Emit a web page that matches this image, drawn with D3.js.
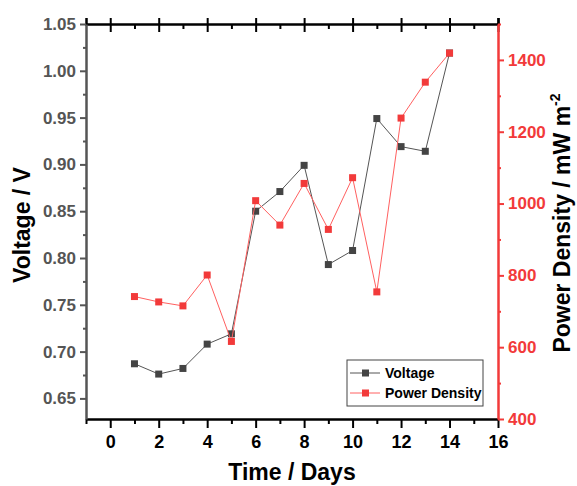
<!DOCTYPE html>
<html>
<head>
	<title></title>
	<style>
		body { margin: 0; background: #fff; }
		text { font-family: "Liberation Sans", Arial, sans-serif; font-weight: bold; }
	</style>
</head>
<body>
	<svg id="container" height="486" width="577"></svg>
</body>
<script src="https://d3js.org/d3.v7.min.js"></script>
<script>
	// data
	let days = [1, 2, 3, 4, 5, 6, 7, 8, 9, 10, 11, 12, 13, 14]
	let voltage = [0.687, 0.676, 0.682, 0.708, 0.719, 0.850, 0.871, 0.899, 0.793, 0.808, 0.949, 0.919, 0.914, 1.019]
	let power = [741, 726, 715, 801, 616, 1008, 940, 1056, 928, 1072, 754, 1238, 1338, 1419]

	let xTicks = [0, 2, 4, 6, 8, 10, 12, 14, 16]
	let xMinor = [-1, 1, 3, 5, 7, 9, 11, 13, 15]
	let vTicks = [0.65, 0.70, 0.75, 0.80, 0.85, 0.90, 0.95, 1.00, 1.05]
	let vMinor = [0.675, 0.725, 0.775, 0.825, 0.875, 0.925, 0.975, 1.025]
	let pTicks = [400, 600, 800, 1000, 1200, 1400]
	let pMinor = [500, 700, 900, 1100, 1300, 1500]

	let red = "#f23a3a"
	let gray = "#555"

	let svg = d3.select("#container")

	let x = d3.scaleLinear().domain([-1, 16]).range([86, 498])
	let yV = d3.scaleLinear().domain([0.628, 1.05]).range([419, 24])
	let yP = d3.scaleLinear().domain([400, 1500]).range([419, 24])

	function styleAxis(g, color, width) {
		g.select(".domain").attr("stroke", color).attr("stroke-width", width)
		g.selectAll(".tick line").attr("stroke", color).attr("stroke-width", 2)
		g.selectAll(".tick text").attr("fill", color)
	}

	function minorTicks(axis, pos, color) {
		svg.append("g").attr("transform", pos)
			.call(axis.tickFormat(""))
			.call(g => g.select(".domain").remove())
			.call(g => g.selectAll("line").attr("stroke", color).attr("stroke-width", 2))
	}

	// bottom axis
	let xAxisB = svg.append("g").attr("transform", "translate(0,419)")
		.call(d3.axisBottom(x).tickValues(xTicks).tickSizeInner(9).tickSizeOuter(0).tickPadding(7))
	xAxisB.selectAll("text").style("font-size", "18px")
	styleAxis(xAxisB, "#000", 2.5)
	minorTicks(d3.axisBottom(x).tickValues(xMinor).tickSize(5), "translate(0,419)", "#000")

	// top axis, ticks cross the line
	let xAxisT = svg.append("g").attr("transform", "translate(0,24)")
		.call(d3.axisTop(x).tickValues(xTicks).tickSize(6).tickFormat(""))
	styleAxis(xAxisT, "#000", 2.5)
	minorTicks(d3.axisBottom(x).tickValues(xTicks).tickSize(8), "translate(0,24)", "#000")
	minorTicks(d3.axisBottom(x).tickValues(xMinor.slice(1)).tickSize(5), "translate(0,24)", "#000")

	// left axis (voltage)
	let yAxisL = svg.append("g").attr("transform", "translate(86,0)")
		.call(d3.axisLeft(yV).tickValues(vTicks).tickFormat(d3.format(".2f")).tickSizeInner(6).tickSizeOuter(0).tickPadding(4))
	yAxisL.selectAll("text").style("font-size", "17px")
	styleAxis(yAxisL, gray, 2.5)
	minorTicks(d3.axisLeft(yV).tickValues(vMinor).tickSize(3), "translate(86,0)", gray)

	// right axis (power density)
	let yAxisR = svg.append("g").attr("transform", "translate(498,0)")
		.call(d3.axisRight(yP).tickValues(pTicks).tickFormat(d3.format("d")).tickSizeInner(6).tickSizeOuter(0).tickPadding(4))
	yAxisR.selectAll("text").style("font-size", "17px")
	styleAxis(yAxisR, red, 2.5)
	minorTicks(d3.axisRight(yP).tickValues(pMinor).tickSize(3), "translate(498,0)", red)

	// series
	let vLine = d3.line().x((d, i) => x(days[i])).y(d => yV(d))
	let pLine = d3.line().x((d, i) => x(days[i])).y(d => yP(d))

	svg.append("path").datum(voltage).attr("d", vLine)
		.attr("fill", "none").attr("stroke", gray).attr("stroke-width", 1)
	svg.selectAll(".vpt").data(voltage).enter().append("rect")
		.attr("class", "vpt")
		.attr("x", (d, i) => x(days[i]) - 3.5).attr("y", d => yV(d) - 3.5)
		.attr("width", 7).attr("height", 7).attr("fill", "#444")

	svg.append("path").datum(power).attr("d", pLine)
		.attr("fill", "none").attr("stroke", "#ff6060").attr("stroke-width", 1)
	svg.selectAll(".ppt").data(power).enter().append("rect")
		.attr("class", "ppt")
		.attr("x", (d, i) => x(days[i]) - 3.5).attr("y", d => yP(d) - 3.5)
		.attr("width", 7).attr("height", 7).attr("fill", red)

	// axis titles
	svg.append("text").attr("transform", "translate(30,225) rotate(-90)")
		.attr("text-anchor", "middle").style("font-size", "23px").text("Voltage / V")

	let pt = svg.append("text").attr("transform", "translate(570,223) rotate(-90)")
		.attr("text-anchor", "middle").style("font-size", "23px")
	pt.append("tspan").text("Power Density / mW m")
	pt.append("tspan").attr("dy", -10).style("font-size", "14px").text("-2")

	svg.append("text").attr("x", 292).attr("y", 480)
		.attr("text-anchor", "middle").style("font-size", "23px").text("Time / Days")

	// legend
	let legend = svg.append("g").attr("transform", "translate(347,360)")
	legend.append("rect").attr("width", 136).attr("height", 46)
		.attr("fill", "#fff").attr("stroke", "#444").attr("stroke-width", 1)
	let entries = [["Voltage", gray, "#444"], ["Power Density", "#ff6060", red]]
	entries.forEach((e, i) => {
		let yy = 13 + i * 20
		legend.append("line").attr("x1", 3).attr("x2", 33).attr("y1", yy).attr("y2", yy)
			.attr("stroke", e[1]).attr("stroke-width", 1)
		legend.append("rect").attr("x", 15).attr("y", yy - 3.5).attr("width", 7).attr("height", 7).attr("fill", e[2])
		legend.append("text").attr("x", 38).attr("y", yy + 5).style("font-size", "14px").text(e[0])
	})
</script>
</html>
